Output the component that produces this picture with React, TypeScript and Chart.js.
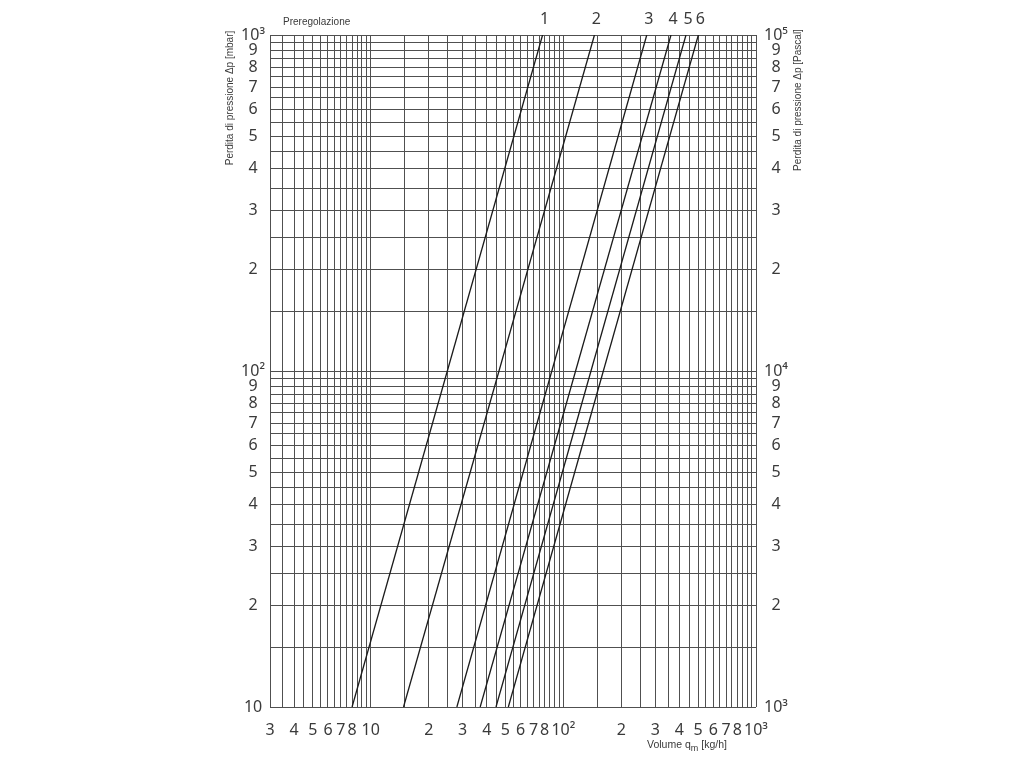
import React, { useEffect, useRef } from 'react';
import { Chart, registerables } from 'chart.js';

Chart.register(...registerables);

// Preregolazione settings (line names)
const settingNames = ['1', '2', '3', '4', '5', '6'];
// Flow q_m [kg/h] read at the bottom (10 mbar) and at the top (1000 mbar) of the diagram
const flowAtLowPressure = [8.0, 14.8, 28.0, 37.0, 44.7, 51.8];
const flowAtHighPressure = [78, 145, 271, 362, 433, 502];
const pressureEnds = [10, 1000]; // mbar

// grid mantissas (lines every half unit inside each decade)
const gridMantissas = [1, 1.5, 2, 2.5, 3, 3.5, 4, 4.5, 5, 5.5, 6, 6.5, 7, 7.5, 8, 8.5, 9, 9.5];
const xDecades = [1, 10, 100];
const yDecades = [10, 100];

// labelled ticks
const xTickValues = [3, 4, 5, 6, 7, 8, 10, 20, 30, 40, 50, 60, 70, 80, 100, 200, 300, 400, 500, 600, 700, 800, 1000];
const xTickLabels = ['3', '4', '5', '6', '7', '8', '10', '2', '3', '4', '5', '6', '7', '8', '10²', '2', '3', '4', '5', '6', '7', '8', '10³'];
const yTickValues = [10, 20, 30, 40, 50, 60, 70, 80, 90, 100, 200, 300, 400, 500, 600, 700, 800, 900, 1000];
const yTickLabels = ['10', '2', '3', '4', '5', '6', '7', '8', '9', '10²', '2', '3', '4', '5', '6', '7', '8', '9', '10³'];
const y2TickValues = [1000, 2000, 3000, 4000, 5000, 6000, 7000, 8000, 9000, 10000, 20000, 30000, 40000, 50000, 60000, 70000, 80000, 90000, 100000];
const y2TickLabels = ['10³', '2', '3', '4', '5', '6', '7', '8', '9', '10⁴', '2', '3', '4', '5', '6', '7', '8', '9', '10⁵'];

const X_MIN = 3;
const X_MAX = 1000;
const Y_MIN = 10;
const Y_MAX = 1000;

const key = (v: number) => Math.round(v * 1000) / 1000;

function buildGrid(decades: number[], min: number, max: number): number[] {
  const out: number[] = [];
  decades.forEach((d) => gridMantissas.forEach((m) => {
    const v = key(m * d);
    if (v >= min && v <= max && !out.includes(v)) out.push(v);
  }));
  if (!out.includes(max)) out.push(max);
  return out;
}

const xGrid = buildGrid(xDecades, X_MIN, X_MAX);
const yGrid = buildGrid(yDecades, Y_MIN, Y_MAX);

const xLabelMap = new Map(xTickValues.map((v, i) => [key(v), xTickLabels[i]]));
const yLabelMap = new Map(yTickValues.map((v, i) => [key(v), yTickLabels[i]]));
const y2LabelMap = new Map(y2TickValues.map((v, i) => [key(v), y2TickLabels[i]]));

const TEXT = '#3a3a3a';
const GRID = '#505050';
const TICK_FONT = { family: '"Noto Sans", "DejaVu Sans", sans-serif', size: 16 };

const textPlugin = {
  id: 'annotTexts',
  afterDraw(chart: any) {
    const { ctx, chartArea } = chart;
    ctx.save();
    ctx.fillStyle = TEXT;
    // series labels at the top of every line
    ctx.font = '16px "Noto Sans", "DejaVu Sans", sans-serif';
    ctx.textAlign = 'center';
    ctx.textBaseline = 'middle';
    chart.data.datasets.forEach((ds: any, i: number) => {
      const meta = chart.getDatasetMeta(i);
      const pt = meta.data[meta.data.length - 1];
      ctx.fillText(ds.label, pt.x + 2, chartArea.top - 16);
    });
    // Preregolazione
    ctx.font = '10px "Liberation Sans", Arial, sans-serif';
    ctx.textAlign = 'left';
    ctx.fillText('Preregolazione', chartArea.left + 13, chartArea.top - 13);
    // x title with subscript
    const xBase = 745;
    let xx = 647;
    ctx.font = '10.5px "Liberation Sans", Arial, sans-serif';
    ctx.fillText('Volume q', xx, xBase);
    xx += ctx.measureText('Volume q').width;
    ctx.font = '9px "Liberation Sans", Arial, sans-serif';
    ctx.fillText('m', xx, xBase + 4);
    xx += ctx.measureText('m').width + 3;
    ctx.font = '10.5px "Liberation Sans", Arial, sans-serif';
    ctx.fillText('[kg/h]', xx, xBase);
    // rotated y titles
    ctx.font = '10px "Liberation Sans", Arial, sans-serif';
    ctx.textAlign = 'center';
    ctx.save();
    ctx.translate(230, 98);
    ctx.rotate(-Math.PI / 2);
    ctx.fillText('Perdita di pressione Δp [mbar]', 0, 0);
    ctx.restore();
    ctx.save();
    ctx.translate(798, 100);
    ctx.rotate(-Math.PI / 2);
    ctx.fillText('Perdita di pressione Δp [Pascal]', 0, 0);
    ctx.restore();
    ctx.restore();
  },
};

export default function App() {
  const canvasRef = useRef<HTMLCanvasElement | null>(null);

  useEffect(() => {
    if (!canvasRef.current) return;
    const datasets = settingNames.map((name, i) => ({
      label: name,
      data: [
        { x: flowAtLowPressure[i], y: pressureEnds[0] },
        { x: flowAtHighPressure[i], y: pressureEnds[1] },
      ],
      borderColor: '#1a1a1a',
      borderWidth: 1.3,
      pointRadius: 0,
      fill: false,
      tension: 0,
      yAxisID: 'y',
    }));

    const chart = new Chart(canvasRef.current, {
      type: 'line',
      data: { datasets },
      plugins: [textPlugin],
      options: {
        animation: false,
        responsive: false,
        layout: { padding: { left: 238, right: 236, top: 35, bottom: 21 } },
        plugins: { legend: { display: false }, tooltip: { enabled: false } },
        scales: {
          x: {
            type: 'logarithmic',
            min: X_MIN,
            max: X_MAX,
            afterBuildTicks: (scale: any) => { scale.ticks = xGrid.map((v) => ({ value: v })); },
            afterFit: (scale: any) => { scale.height = 40; },
            ticks: {
              autoSkip: false,
              maxRotation: 0,
              padding: 14,
              color: TEXT,
              font: TICK_FONT,
              callback: (v: any) => xLabelMap.get(key(Number(v))) ?? '',
            },
            grid: { color: GRID, lineWidth: 1, drawTicks: false },
            border: { display: false },
          },
          y: {
            type: 'logarithmic',
            position: 'left',
            min: Y_MIN,
            max: Y_MAX,
            afterBuildTicks: (scale: any) => { scale.ticks = yGrid.map((v) => ({ value: v })); },
            afterFit: (scale: any) => { scale.width = 32; },
            ticks: {
              autoSkip: false,
              padding: 5,
              crossAlign: 'center',
              color: TEXT,
              font: TICK_FONT,
              callback: (v: any) => yLabelMap.get(key(Number(v))) ?? '',
            },
            grid: { color: GRID, lineWidth: 1, drawTicks: false },
            border: { display: false },
          },
          y2: {
            type: 'logarithmic',
            position: 'right',
            min: 1000,
            max: 100000,
            afterBuildTicks: (scale: any) => { scale.ticks = y2TickValues.map((v) => ({ value: v })); },
            afterFit: (scale: any) => { scale.width = 32; },
            ticks: {
              autoSkip: false,
              padding: 8,
              crossAlign: 'center',
              color: TEXT,
              font: TICK_FONT,
              callback: (v: any) => y2LabelMap.get(key(Number(v))) ?? '',
            },
            grid: { display: false, drawTicks: false },
            border: { display: false },
          },
        },
      },
    } as any);
    return () => chart.destroy();
  }, []);

  return (
    <div style={{ position: 'absolute', left: 0, top: 0, width: 1024, height: 768, background: '#fff' }}>
      <canvas ref={canvasRef} width={1024} height={768} />
    </div>
  );
}
